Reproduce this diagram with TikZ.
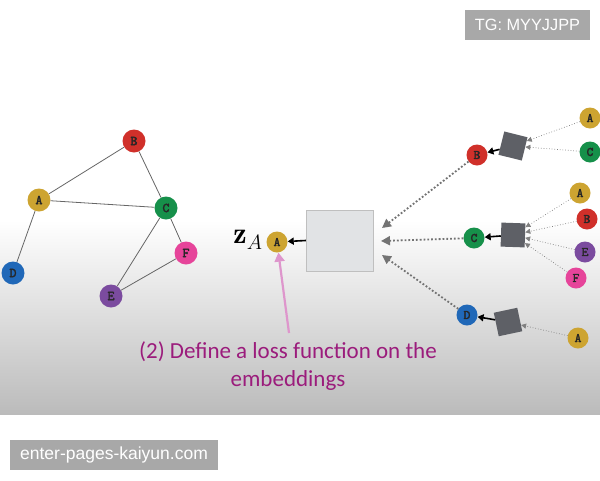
\documentclass[tikz,border=0pt]{standalone}
\usepackage{fontspec}
\newfontfamily\carl{Carlito}
\newfontfamily\wmfont{Liberation Sans}
\newfontfamily\nodefont[FakeBold=2.5]{lmmono10-regular.otf}
\usetikzlibrary{arrows.meta}
\definecolor{cA}{HTML}{CDA431}
\definecolor{cB}{HTML}{D0302A}
\definecolor{cC}{HTML}{16904A}
\definecolor{cD}{HTML}{2068B8}
\definecolor{cE}{HTML}{7B4B9F}
\definecolor{cF}{HTML}{E6449A}
\definecolor{sq}{HTML}{5E6066}
\definecolor{boxfill}{HTML}{E1E3E5}
\definecolor{txt}{HTML}{9B1C7C}
\definecolor{pinkarrow}{HTML}{DE96CC}
\definecolor{wm}{HTML}{A8A8A8}
\definecolor{bot}{HTML}{BBBBBB}
\tikzset{
  gnode/.style={circle, minimum size=23pt, inner sep=0pt, font=\nodefont\fontsize{13.5}{13.5}\selectfont, text=black!85},
  sgnode/.style={circle, minimum size=21pt, inner sep=0pt, font=\nodefont\fontsize{13}{13}\selectfont, text=black!85},
  gedge/.style={draw=black!60, line width=0.8pt},
  agg/.style={fill=sq, minimum size=24pt, inner sep=0pt},
  inarrow/.style={draw=black!50, line width=0.7pt, dotted, -{Triangle[length=5pt,width=5pt]}},
  bigdot/.style={draw=black!55, line width=1.8pt, dotted, -{Triangle[length=9pt,width=9pt]}},
  blk/.style={draw=black, line width=1.6pt, -{Triangle[length=6pt,width=7pt]}},
  wmbox/.style={fill=wm, text=white, inner sep=0pt}
}
\begin{document}
\begin{tikzpicture}[x=1pt,y=-1pt]
\useasboundingbox (0,0) rectangle (600,480);
\fill[white] (0,0) rectangle (600,480);
\shade[top color=white, bottom color=bot] (0,220) rectangle (600,414);
% left graph
\node[gnode, fill=cB] (B) at (134,141) {B};
\node[gnode, fill=cA] (A) at (39,200) {A};
\node[gnode, fill=cC] (C) at (166,208) {C};
\node[gnode, fill=cD] (D) at (13,273) {D};
\node[gnode, fill=cF] (F) at (186,253) {F};
\node[gnode, fill=cE] (E) at (111,296) {E};
\draw[gedge] (A) -- (B);
\draw[gedge] (A) -- (C);
\draw[gedge] (B) -- (C);
\draw[gedge] (A) -- (D);
\draw[gedge] (C) -- (E);
\draw[gedge] (C) -- (F);
\draw[gedge] (E) -- (F);
% center
\node[draw=black!25, fill=boxfill, minimum width=67pt, minimum height=61pt, inner sep=0pt] (box) at (339.5,240.5) {};
\node[sgnode, fill=cA] (zA) at (277,242) {A};
\node (zlab) at (248,240) {\fontsize{30}{30}\selectfont$\mathbf{z}_A$};
\draw[blk] (box.west) -- (zA);
% right: B
\node[sgnode, fill=cB] (rB) at (477,155) {B};
\node[agg, rotate=-14] (sB) at (513,146) {};
\node[sgnode, fill=cA] (rBA) at (590,118) {A};
\node[sgnode, fill=cC] (rBC) at (590,152) {C};
\draw[inarrow] (rBA) -- (sB);
\draw[inarrow] (rBC) -- (sB);
\draw[blk] (sB) -- (rB);
% right: C
\node[sgnode, fill=cC] (rC) at (474,238) {C};
\node[agg, rotate=-2] (sC) at (513,235) {};
\node[sgnode, fill=cA] (rCA) at (580,193) {A};
\node[sgnode, fill=cB] (rCB) at (587,219) {B};
\node[sgnode, fill=cE] (rCE) at (585,252) {E};
\node[sgnode, fill=cF] (rCF) at (576,278) {F};
\draw[inarrow] (rCA) -- (sC);
\draw[inarrow] (rCB) -- (sC);
\draw[inarrow] (rCE) -- (sC);
\draw[inarrow] (rCF) -- (sC);
\draw[blk] (sC) -- (rC);
% right: D
\node[sgnode, fill=cD] (rD) at (467,315) {D};
\node[agg, rotate=12] (sD) at (508,322) {};
\node[sgnode, fill=cA] (rDA) at (578,338) {A};
\draw[inarrow] (rDA) -- (sD);
\draw[blk] (sD) -- (rD);
% dotted to box
\coordinate (t1) at (382,228);
\coordinate (t2) at (381,241);
\coordinate (t3) at (382,255);
\draw[bigdot] (rB) -- (t1);
\draw[bigdot] (rC) -- (t2);
\draw[bigdot] (rD) -- (t3);
% pink arrow and caption
\coordinate (p0) at (289,333);
\draw[pinkarrow, line width=2.2pt, -{Triangle[length=9pt,width=10pt]}] (p0) -- (zA);
\node[text=txt, font=\carl\fontsize{23}{28}\selectfont, align=center] (cap) at (288,366) {(2) Define a loss function on the\\embeddings};
% watermarks
\node[wmbox, font=\wmfont\fontsize{16.3}{16}\selectfont, minimum width=125pt, minimum height=30pt] (wm1) at (527.5,25) {TG: MYYJJPP};
\node[wmbox, font=\wmfont\fontsize{17.5}{17}\selectfont, minimum width=208pt, minimum height=30pt] (wm2) at (114,455) {enter-pages-kaiyun.com};
\end{tikzpicture}
\end{document}
